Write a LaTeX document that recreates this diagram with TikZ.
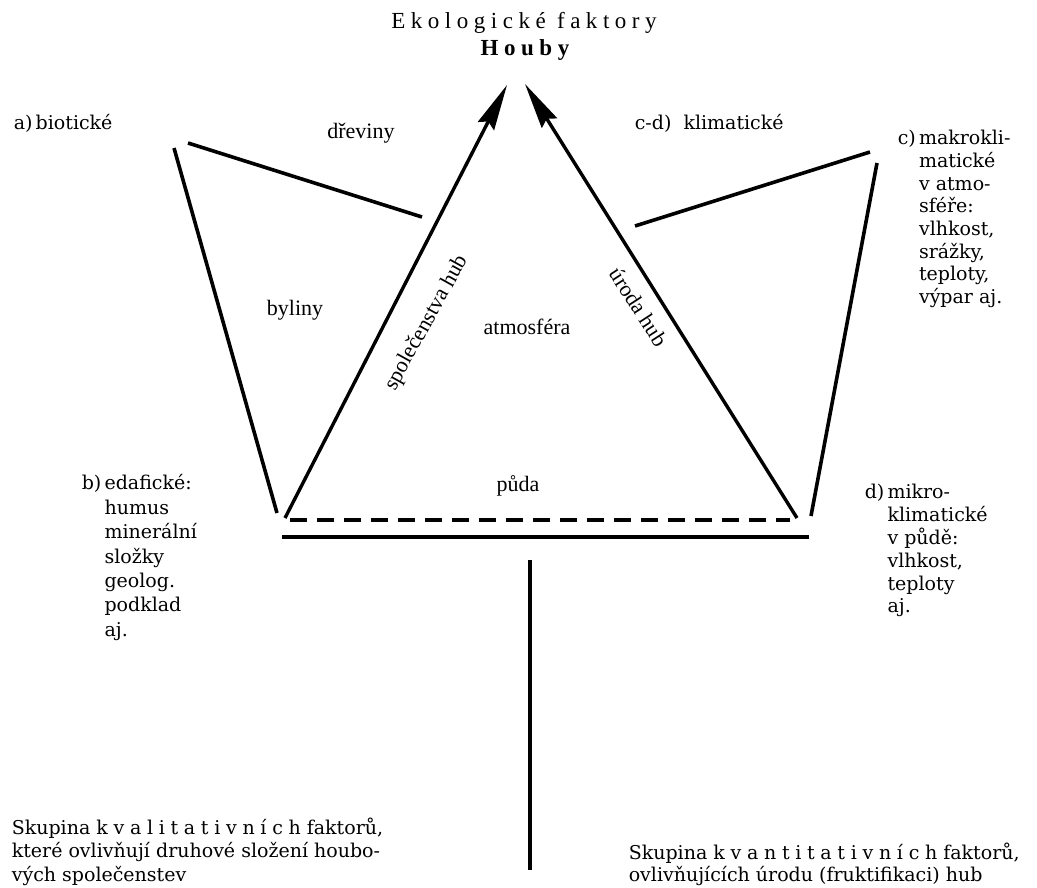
\documentclass[tikz,border=0pt]{standalone}
\usepackage{fontspec}
\setmainfont{DejaVu Serif}
\newfontfamily\timesfont{Liberation Serif}
\newfontfamily\titlefont[LetterSpace=24]{Liberation Serif}
\newfontfamily\spacedfont[LetterSpace=30]{DejaVu Serif}
\usetikzlibrary{arrows.meta}

\tikzset{
  txt/.style={inner sep=0pt,font=\fontsize{19}{22.7}\selectfont},
  lbl/.style={inner sep=0pt,font=\timesfont\fontsize{22}{26}\selectfont},
  bigarrow/.style={line width=3.4pt,-{Stealth[length=46pt,width=18pt,inset=5pt]}}
}

\begin{document}
\begin{tikzpicture}[x=1pt,y=-1pt,line width=3.6pt]
\useasboundingbox (0,0) rectangle (1037,888);
% end points of the strokes
\coordinate (bioA) at (174,148); \coordinate (bioB) at (277,513);
\coordinate (drevA) at (188,143); \coordinate (drevB) at (422,217);
\coordinate (klimA) at (635,226); \coordinate (klimB) at (870,152);
\coordinate (mikA) at (877,163); \coordinate (mikB) at (811,516);
\coordinate (spolA) at (285,518); \coordinate (spolB) at (507,85);
\coordinate (urodA) at (797,518); \coordinate (urodB) at (525,84);
\coordinate (pudaA) at (290,520); \coordinate (pudaB) at (790,520);
\coordinate (zemA) at (282,537); \coordinate (zemB) at (809,537);
\coordinate (osA) at (530,560); \coordinate (osB) at (530,870);

\node[inner sep=0pt,font=\titlefont\fontsize{23}{26}\selectfont] (ekol) at (524,23) {Ekologické faktory};
\node[inner sep=0pt,font=\titlefont\bfseries\fontsize{23}{26}\selectfont] (houby) at (525,50) {Houby};

\draw (bioA)--(bioB); \draw (drevA)--(drevB);
\draw (klimA)--(klimB); \draw (mikA)--(mikB);
\draw[bigarrow] (spolA)--(spolB); \draw[bigarrow] (urodA)--(urodB);
\draw[line width=3.8pt,dash pattern=on 17pt off 10pt] (pudaA)--(pudaB);
\draw (zemA)--(zemB);
\draw[line width=4.6pt] (osA)--(osB);

\node[txt,anchor=base west] (biot) at (12,130) {a)\,biotické};
\node[txt,anchor=base west] (klim) at (633,130) {c-d)\ \ klimatické};
\node[lbl] (drev) at (361,133) {dřeviny};
\node[lbl] (byl) at (295,310) {byliny};
\node[lbl] (atm) at (527,327) {atmosféra};
\node[lbl] (puda) at (518,486) {půda};
\node[lbl,rotate=61] (spol) at (427,323) {společenstva hub};
\node[lbl,rotate=-57] (uroda) at (639,307) {úroda hub};

\node[txt,anchor=north west] (makro) at (896,127) {\begin{tabular}{@{}l@{\,}l@{}}c)&makrokli-\\&matické\\&v atmo-\\&sféře:\\&vlhkost,\\&srážky,\\&teploty,\\&výpar aj.\end{tabular}};
\node[txt,font=\fontsize{19}{24.4}\selectfont,anchor=north west] (edaf) at (80,471) {\begin{tabular}{@{}l@{\,}l@{}}b)&edafické:\\&humus\\&minerální\\&složky\\&geolog.\\&podklad\\&aj.\end{tabular}};
\node[txt,anchor=north west] (mikro) at (863,481) {\begin{tabular}{@{}l@{\,}l@{}}d)&mikro-\\&klimatické\\&v půdě:\\&vlhkost,\\&teploty\\&aj.\end{tabular}};

\node[txt,font=\fontsize{19}{23.5}\selectfont,anchor=north west] (kval) at (10,816) {\begin{tabular}{@{}l@{}}Skupina {\spacedfont kvalitativních} faktorů,\\které ovlivňují druhové složení houbo-\\vých společenstev\end{tabular}};
\node[txt,font=\fontsize{19}{22}\selectfont,anchor=north west] (kvan) at (627,841) {\begin{tabular}{@{}l@{}}Skupina {\spacedfont kvantitativních} faktorů,\\ovlivňujících úrodu (fruktifikaci) hub\end{tabular}};
\end{tikzpicture}
\end{document}
